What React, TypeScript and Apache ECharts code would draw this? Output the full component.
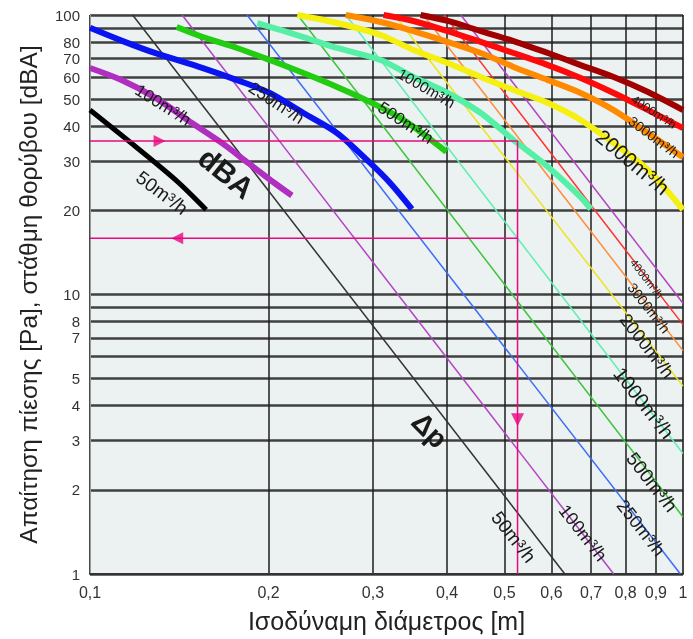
import React, { useEffect, useRef } from 'react';
import * as echarts from 'echarts';

// Axis ticks
const xTickValues = [0.1, 0.2, 0.3, 0.4, 0.5, 0.6, 0.7, 0.8, 0.9, 1];
const xTickLabels = ['0,1', '0,2', '0,3', '0,4', '0,5', '0,6', '0,7', '0,8', '0,9', '1'];
const yGridValues = [1, 2, 3, 4, 5, 6, 7, 8, 9, 10, 20, 30, 40, 50, 60, 70, 80, 90, 100];
const yTickLabels = [1, 2, 3, 4, 5, 7, 8, 10, 20, 30, 40, 50, 60, 70, 80, 100];

// Pressure drop Δp [Pa] vs equivalent diameter [m] (thin straight lines)
const dp50 = [[0.118, 100], [0.632, 1]];
const dp100 = [[0.143, 100], [0.764, 1]];
const dp250 = [[0.184, 100], [0.99, 1]];
const dp500 = [[0.224, 100], [1, 1.6]];
const dp1000 = [[0.27, 100], [1, 2.7]];
const dp2000 = [[0.326, 100], [1, 4.7]];
const dp3000 = [[0.365, 100], [1, 6.3]];
const dp4000 = [[0.396, 100], [1, 7.8]];
const dp5000 = [[0.422, 100], [1, 9.3]];

// Noise level [dBA] vs equivalent diameter [m] (thick curves)
const noise50 = [[0.1, 45.7], [0.12, 33.5], [0.14, 25.5], [0.157, 20.1]];
const noise100 = [[0.1, 64.6], [0.113, 58.5], [0.129, 50.5], [0.146, 42.1], [0.167, 34.8], [0.185, 29.5], [0.205, 25.0], [0.219, 22.6]];
const noise250 = [[0.1, 90], [0.113, 81], [0.129, 73], [0.155, 64.6], [0.177, 58.5], [0.201, 52.6], [0.229, 44.6], [0.261, 37.8], [0.297, 29.5], [0.321, 25], [0.349, 20.2]];
const noise500 = [[0.14, 90.6], [0.155, 83.4], [0.177, 76.2], [0.201, 69.0], [0.229, 62.0], [0.261, 55.3], [0.297, 48.8], [0.338, 42.1], [0.399, 32.4]];
const noise1000 = [[0.1915, 93.6], [0.229, 83.4], [0.261, 76.2], [0.309, 69.0], [0.351, 60.0], [0.401, 52.6], [0.456, 44.6], [0.518, 35.7], [0.592, 28.6], [0.672, 22.3], [0.699, 20.2]];
const noise2000 = [[0.2237, 100], [0.261, 93.6], [0.309, 84.8], [0.351, 75.0], [0.401, 67.3], [0.456, 60.0], [0.518, 53.9], [0.592, 48.4], [0.672, 42.1], [0.764, 34.8], [0.873, 27.9], [1, 20.1]];
const noise3000 = [[0.27, 100], [0.309, 94.4], [0.351, 87.6], [0.401, 80.1], [0.456, 73.1], [0.518, 65.2], [0.592, 58.5], [0.672, 52.6], [0.764, 45.7], [0.873, 37.8], [1, 31.0]];
const noise4000 = [[0.3126, 100], [0.351, 95.2], [0.401, 87.6], [0.456, 80.1], [0.518, 73.1], [0.592, 66.2], [0.672, 59.5], [0.764, 52.6], [0.873, 45.7], [1, 39.4]];
const noise5000 = [[0.361, 100], [0.401, 95.2], [0.456, 87.6], [0.518, 80.7], [0.592, 73.1], [0.672, 66.2], [0.764, 60.0], [0.873, 53.0], [1, 45.7]];

// Worked example (reading guide)
const guideNoise = [[0.1, 35.4], [0.526, 35.4], [0.526, 1]];
const guidePressure = [[0.1, 15.9], [0.526, 15.9]];
const arrowRight = [[0.131, 35.4]];
const arrowLeft = [[0.1403, 15.9]];
const arrowDown = [[0.526, 3.56]];

const FONT = "'Liberation Sans', Arial, sans-serif";
const NARROW = "'Liberation Sans Narrow', 'Liberation Sans', Arial, sans-serif";

export default function App() {
  const ref = useRef<HTMLDivElement>(null);

  useEffect(() => {
    const chart = echarts.init(ref.current!, null, { renderer: 'svg' });

    const thin = [
      { name: 'Δp 50', data: dp50, color: '#333333' },
      { name: 'Δp 100', data: dp100, color: '#b344c4' },
      { name: 'Δp 250', data: dp250, color: '#3b6cf5' },
      { name: 'Δp 500', data: dp500, color: '#3cc43c' },
      { name: 'Δp 1000', data: dp1000, color: '#5ef0b0' },
      { name: 'Δp 2000', data: dp2000, color: '#eee41c' },
      { name: 'Δp 3000', data: dp3000, color: '#ff8c3a' },
      { name: 'Δp 4000', data: dp4000, color: '#ff3030' },
      { name: 'Δp 5000', data: dp5000, color: '#b344c4' },
    ];
    const thick = [
      { name: 'dBA 50', data: noise50, color: '#000000', w: 5 },
      { name: 'dBA 100', data: noise100, color: '#b02ec0', w: 6 },
      { name: 'dBA 250', data: noise250, color: '#0a14f0', w: 6 },
      { name: 'dBA 500', data: noise500, color: '#22cc10', w: 6 },
      { name: 'dBA 1000', data: noise1000, color: '#55f0a5', w: 6 },
      { name: 'dBA 2000', data: noise2000, color: '#f5f010', w: 6 },
      { name: 'dBA 3000', data: noise3000, color: '#ff8a00', w: 6 },
      { name: 'dBA 4000', data: noise4000, color: '#ff0a0a', w: 6 },
      { name: 'dBA 5000', data: noise5000, color: '#a00000', w: 6 },
    ];

    const series: any[] = [];
    thin.forEach((s) =>
      series.push({
        type: 'line', name: s.name, data: s.data, symbol: 'none', z: 3,
        lineStyle: { color: s.color, width: 1.5 },
      })
    );
    thick.forEach((s) =>
      series.push({
        type: 'line', name: s.name, data: s.data, symbol: 'none', smooth: 0.3, z: 4,
        lineStyle: { color: s.color, width: s.w, cap: 'butt' },
      })
    );
    const pink = '#e8087f';
    series.push({ type: 'line', name: 'guide dBA', data: guideNoise, symbol: 'none', z: 5, lineStyle: { color: pink, width: 1.5 } });
    series.push({ type: 'line', name: 'guide Pa', data: guidePressure, symbol: 'none', z: 5, lineStyle: { color: pink, width: 1.5 } });
    series.push({ type: 'scatter', data: arrowRight, symbol: 'path://M0,0L12,6L0,12Z', symbolSize: 12, z: 6, itemStyle: { color: pink } });
    series.push({ type: 'scatter', data: arrowLeft, symbol: 'path://M12,0L0,6L12,12Z', symbolSize: 12, z: 6, itemStyle: { color: pink } });
    series.push({ type: 'scatter', data: arrowDown, symbol: 'path://M0,0L12,0L6,12Z', symbolSize: 13, z: 6, itemStyle: { color: pink } });

    chart.setOption({
      animation: false,
      grid: {
        left: 90, right: 10, top: 15, bottom: 65, show: true,
        backgroundColor: '#ecf1f1', borderColor: '#9a9a9a', borderWidth: 1,
        outerBoundsMode: 'none',
      },
      xAxis: {
        type: 'log', logBase: 10, min: 0.1, max: 1,
        name: 'Ισοδύναμη διάμετρος [m]', nameLocation: 'middle', nameGap: 34,
        nameTextStyle: { fontFamily: FONT, fontSize: 25, color: '#222' },
        axisLine: { show: true, lineStyle: { color: '#333', width: 2 } },
        axisTick: { show: false, customValues: xTickValues },
        axisLabel: {
          customValues: xTickValues, margin: 10, fontFamily: NARROW, fontSize: 16, color: '#333',
          formatter: (v: number) => {
            const i = xTickValues.findIndex((t) => Math.abs(t - v) < 1e-6);
            return i >= 0 ? xTickLabels[i] : '';
          },
        },
        splitLine: { show: true, lineStyle: { color: '#1e1e1e', width: 1.5 } },
      },
      yAxis: {
        type: 'log', logBase: 10, min: 1, max: 100,
        name: 'Απαίτηση πίεσης [Pa], στάθμη θορύβου [dBA]', nameLocation: 'middle', nameGap: 49,
        nameTextStyle: { fontFamily: FONT, fontSize: 24.5, color: '#222' },
        axisLine: { show: true, lineStyle: { color: '#9a9a9a', width: 1 } },
        axisTick: { show: false, customValues: yGridValues },
        axisLabel: {
          customValues: yTickLabels, margin: 10, fontFamily: FONT, fontSize: 15, color: '#333',
          formatter: (v: number) => String(Math.round(v)),
        },
        splitLine: { show: true, lineStyle: { color: '#404040', width: 2.5 } },
      },
      series,
    });

    const px = (p: number[]) => chart.convertToPixel({ gridIndex: 0 }, p) as number[];
    const dBALabels = [
      { t: '50m³/h', at: [0.1323, 23.1], rot: 37, fs: 19 },
      { t: '100m³/h', at: [0.1328, 47.6], rot: 32, fs: 17 },
      { t: '250m³/h', at: [0.2062, 48.4], rot: 33, fs: 17 },
      { t: '500m³/h', at: [0.3406, 41.1], rot: 33, fs: 17 },
      { t: '1000m³/h', at: [0.3694, 54.8], rot: 30, fs: 15 },
      { t: '2000m³/h', at: [0.823, 29.8], rot: 40, fs: 21 },
      { t: '3000m³/h', at: [0.893, 36.6], rot: 37, fs: 14 },
      { t: '4000m³/h', at: [0.893, 45.0], rot: 33, fs: 12 },
    ];
    const dpLabels = [
      { t: '50m³/h', at: [0.518, 1.357], rot: 52, fs: 19 },
      { t: '100m³/h', at: [0.678, 1.402], rot: 52, fs: 18 },
      { t: '250m³/h', at: [0.849, 1.461], rot: 52, fs: 18 },
      { t: '500m³/h', at: [0.886, 2.13], rot: 52, fs: 19 },
      { t: '1000m³/h', at: [0.859, 4.09], rot: 52, fs: 20 },
      { t: '2000m³/h', at: [0.869, 6.54], rot: 52, fs: 18 },
      { t: '3000m³/h', at: [0.876, 8.95], rot: 52, fs: 14 },
      { t: '4000m³/h', at: [0.869, 11.4], rot: 52, fs: 11 },
    ];
    const bigLabels = [
      { t: 'dBA', at: [0.1697, 27.2], rot: 39, fs: 30 },
      { t: 'Δp', at: [0.3738, 3.27], rot: 45, fs: 28 },
    ];
    const mk = (l: any, weight: string) => {
      const [x, y] = px(l.at);
      return {
        type: 'text', x, y, rotation: (-l.rot * Math.PI) / 180, z: 10,
        style: {
          text: l.t, fontFamily: FONT, fontSize: l.fs, fontWeight: weight, fill: '#1a1a1a',
          align: 'center', verticalAlign: 'middle',
        },
      };
    };
    chart.setOption({
      graphic: [
        ...dBALabels.map((l) => mk(l, 'normal')),
        ...dpLabels.map((l) => mk(l, 'normal')),
        ...bigLabels.map((l) => mk(l, 'bold')),
      ],
    });

    return () => chart.dispose();
  }, []);

  return <div ref={ref} style={{ position: 'fixed', left: 0, top: 0, width: 693, height: 639 }} />;
}
